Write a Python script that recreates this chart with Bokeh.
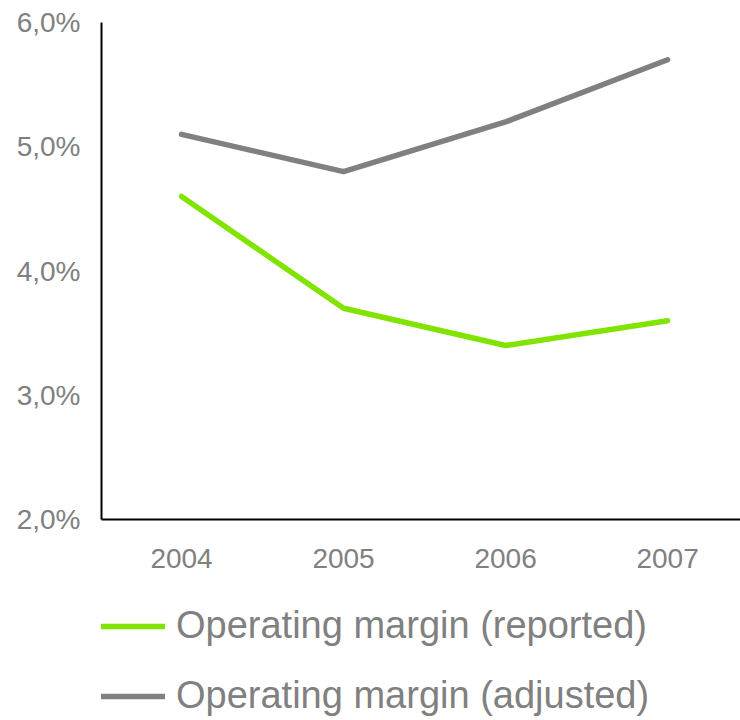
from bokeh.plotting import figure
from bokeh.layouts import column
from bokeh.models import Range1d, FixedTicker, Legend, LegendItem
from bokeh.embed import file_html
from bokeh.resources import INLINE

# Operating margin by year, in percent
years = ["2004", "2005", "2006", "2007"]
margin_reported = [4.6, 3.7, 3.4, 3.6]
margin_adjusted = [5.1, 4.8, 5.2, 5.7]
y_ticks = [2.0, 3.0, 4.0, 5.0, 6.0]
y_tick_labels = ["2,0%", "3,0%", "4,0%", "5,0%", "6,0%"]
series_names = ["Operating margin (reported)", "Operating margin (adjusted)"]

FONT = "Liberation Sans"
TEXT_GREY = "#808080"
GREEN = "#80E400"
GREY = "#808080"
LINE_W = 5.5
NAN = float("nan")

xs = list(range(len(years)))

p = figure(
    width=740, height=590,
    output_backend="svg", toolbar_location=None,
    x_range=Range1d(-0.494, 3.45), y_range=Range1d(2.0, 6.0),
    min_border_left=101, min_border_right=0, min_border_top=22,
    min_border_bottom=71,
)
p.outline_line_color = None
p.grid.visible = False

p.line(xs, margin_reported, line_color=GREEN, line_width=LINE_W, line_cap="round", line_join="round")
p.line(xs, margin_adjusted, line_color=GREY, line_width=LINE_W, line_cap="round", line_join="round")

# x axis: year labels
p.xaxis.ticker = FixedTicker(ticks=xs)
p.xaxis.major_label_overrides = {i: y for i, y in enumerate(years)}
p.xaxis.major_tick_line_color = None
p.xaxis.minor_tick_line_color = None
p.xaxis.major_label_standoff = 23
p.xaxis.axis_line_color = "black"
p.xaxis.axis_line_width = 2

# y axis: percentage labels with decimal comma
p.yaxis.ticker = FixedTicker(ticks=y_ticks)
p.yaxis.major_label_overrides = {t: l for t, l in zip(y_ticks, y_tick_labels)}
p.yaxis.major_tick_line_color = None
p.yaxis.minor_tick_line_color = None
p.yaxis.major_label_standoff = 15
p.yaxis.axis_line_color = "black"
p.yaxis.axis_line_width = 2

for ax in (p.xaxis, p.yaxis):
    ax.major_label_text_font = FONT
    ax.major_label_text_font_size = "28px"
    ax.major_label_text_color = TEXT_GREY

# legend strip underneath the chart; its frame lines up with the chart's frame
lg = figure(
    width=740, height=130,
    output_backend="svg", toolbar_location=None,
    x_range=Range1d(0, 1), y_range=Range1d(0, 1),
    x_axis_location=None, y_axis_location=None,
    min_border=0,
)
lg.outline_line_color = None
lg.grid.visible = False

# legend keys only: these carry the line styles, no visible data
key_rep = lg.line([NAN], [NAN], line_color=GREEN, line_width=LINE_W, line_cap="round")
key_adj = lg.line([NAN], [NAN], line_color=GREY, line_width=LINE_W, line_cap="round")

legend = Legend(
    items=[
        LegendItem(label=series_names[0], renderers=[key_rep]),
        LegendItem(label=series_names[1], renderers=[key_adj]),
    ],
    location=(-1, 3),
    orientation="vertical",
    label_text_font=FONT,
    label_text_font_size="38px",
    label_text_color=TEXT_GREY,
    glyph_width=65,
    label_standoff=11,
    spacing=27,
    padding=0,
    margin=0,
    border_line_color=None,
    background_fill_alpha=0,
)
lg.add_layout(legend, "center")

open("out.html", "w").write(file_html(column(p, lg, spacing=0), INLINE))
